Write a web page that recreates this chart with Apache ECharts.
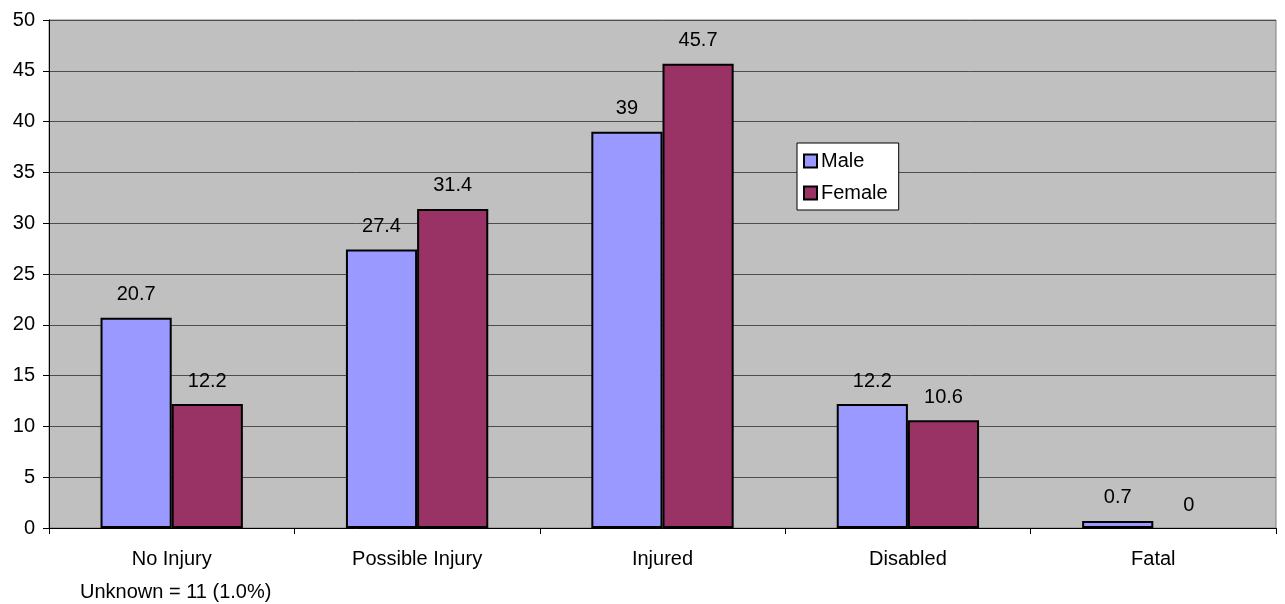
<!DOCTYPE html>
<html>
<head>
<meta charset="utf-8">
<script src="https://cdn.jsdelivr.net/npm/echarts@6/dist/echarts.min.js"></script>
<style>
  html, body { margin: 0; padding: 0; background: #ffffff; }
  #chart { width: 1285px; height: 604px; }
</style>
</head>
<body>
<div id="chart"></div>
<script>
// Injury severity by sex (percent)
const categories = ['No Injury', 'Possible Injury', 'Injured', 'Disabled', 'Fatal'];
const maleValues = [20.7, 27.4, 39, 12.2, 0.7];
const femaleValues = [12.2, 31.4, 45.7, 10.6, 0];
const seriesNames = ['Male', 'Female'];
const footnote = 'Unknown = 11 (1.0%)';

const FONT = 'Liberation Sans, Arial, sans-serif';
const FS = 20;

const chart = echarts.init(document.getElementById('chart'));

const labelStyle = {
  show: true,
  position: 'top',
  distance: 13,
  color: '#000',
  fontFamily: FONT,
  fontSize: FS
};

// zero-height bars get no outline, so only their label shows
const toBarData = values => values.map(v =>
  v === 0 ? { value: v, itemStyle: { borderWidth: 0 } } : v
);

chart.setOption({
  backgroundColor: '#ffffff',
  animation: false,
  grid: {
    left: 49, right: 9, top: 20, bottom: 76,
    show: true,
    backgroundColor: '#c0c0c0',
    borderColor: '#808080',
    borderWidth: 1
  },
  legend: {
    data: seriesNames,
    orient: 'vertical',
    left: 797, top: 143,
    backgroundColor: '#ffffff',
    borderColor: '#000000',
    borderWidth: 1,
    padding: [8, 11, 7, 6],
    itemGap: 12,
    itemWidth: 13, itemHeight: 13,
    icon: 'rect',
    textStyle: { fontFamily: FONT, fontSize: FS, color: '#000', padding: [0, 0, 0, -1] }
  },
  xAxis: {
    type: 'category',
    data: categories,
    axisLine: { lineStyle: { color: '#000', width: 1 } },
    axisTick: { show: true, length: 6, lineStyle: { color: '#000' } },
    axisLabel: { color: '#000', fontFamily: FONT, fontSize: FS, margin: 21 }
  },
  yAxis: {
    type: 'value',
    min: 0, max: 50, interval: 5,
    axisLine: { show: true, lineStyle: { color: '#000', width: 1 } },
    axisTick: { show: true, length: 6, lineStyle: { color: '#000' } },
    axisLabel: { color: '#000', fontFamily: FONT, fontSize: FS, margin: 14 },
    splitLine: { show: true, lineStyle: { color: '#4d4d4d', width: 1 } }
  },
  series: [
    {
      name: seriesNames[0],
      type: 'bar',
      data: toBarData(maleValues),
      barGap: '0%',
      barCategoryGap: '42%',
      itemStyle: { color: '#9999ff', borderColor: '#000', borderWidth: 2 },
      label: labelStyle
    },
    {
      name: seriesNames[1],
      type: 'bar',
      data: toBarData(femaleValues),
      itemStyle: { color: '#993366', borderColor: '#000', borderWidth: 2 },
      label: labelStyle
    }
  ],
  graphic: [
    {
      type: 'text',
      left: 80, top: 582,
      style: { text: footnote, fill: '#000', font: FS + 'px ' + FONT }
    }
  ]
});
</script>
</body>
</html>
